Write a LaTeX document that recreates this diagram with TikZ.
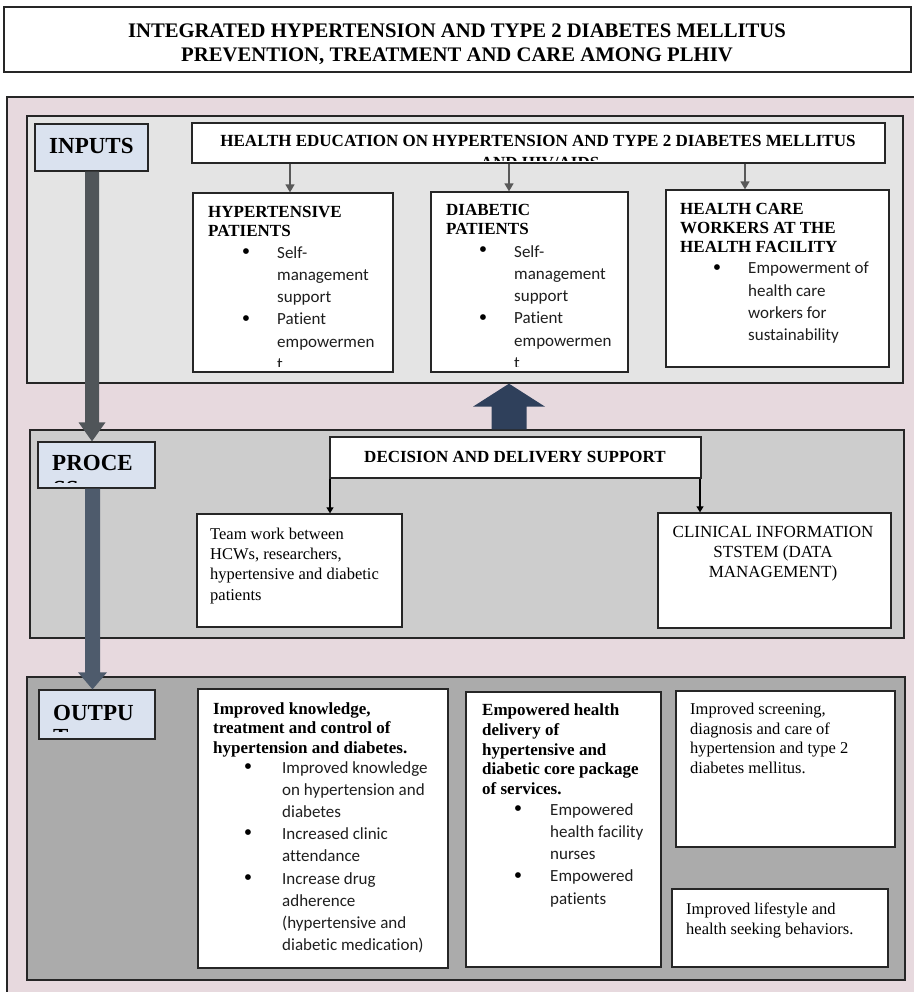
\documentclass[tikz,border=0pt]{standalone}
\usepackage{fontspec}
\setmainfont{Liberation Serif}
\newfontfamily\calfont[RawFeature={-liga}]{Carlito}
\usetikzlibrary{arrows.meta,fit,calc}
\definecolor{pinkbg}{HTML}{E7D9DE}
\definecolor{inbg}{HTML}{E4E4E4}
\definecolor{procbg}{HTML}{CDCDCD}
\definecolor{outbg}{HTML}{ABABAB}
\definecolor{lblbg}{HTML}{DAE2EF}
\definecolor{arrA}{HTML}{505559}
\definecolor{arrB}{HTML}{4E5B6C}
\definecolor{navyup}{HTML}{2F405B}
\definecolor{edgec}{HTML}{262626}
\definecolor{grayarr}{HTML}{595959}
\definecolor{bltext}{HTML}{1E1E1E}
\begin{document}
\begin{tikzpicture}[x=1pt,y=-1pt,
  frame/.style={draw=edgec, line width=1.3pt, inner sep=0pt},
  wbox/.style={frame, fill=white},
  lbl/.style={frame, fill=lblbg},
  lbltxt/.style={anchor=base west, inner sep=0pt, font=\fontsize{23}{28}\selectfont\bfseries},
  hd/.style={anchor=north west, inner sep=0pt, align=left, font=\fontsize{17}{19.6}\selectfont\bfseries},
  bl/.style={anchor=north west, inner sep=0pt, align=left, text=bltext, font=\calfont\fontsize{17}{22.3}\selectfont},
  rg/.style={anchor=north west, inner sep=0pt, align=left, font=\fontsize{16.5}{20.3}\selectfont},
  bdot/.style={anchor=base, inner sep=0pt, font=\fontsize{24}{24}\selectfont},
  garr/.style={draw=grayarr, line width=1.5pt, -{Triangle[length=8pt,width=9pt]}},
  karr/.style={draw=black, line width=1.2pt, -{Triangle[length=6pt,width=7pt]}}
]
\useasboundingbox (0,0) rectangle (913,992);
\fill[white] (0,0) rectangle (913,992);

% title
\node[wbox, fit={(4,7)(911,72)}] (title) {};
\node[anchor=north, inner sep=0pt, align=center, font=\fontsize{20.7}{24}\selectfont\bfseries] (titletxt) at (457,23.3)
  {INTEGRATED HYPERTENSION AND TYPE 2 DIABETES MELLITUS\\PREVENTION, TREATMENT AND CARE AMONG PLHIV};

% outer
\node[frame, fill=pinkbg, fit={(7,97)(920,1002)}] (outer) {};

% ---------- INPUTS ----------
\node[frame, fill=inbg, fit={(27,116)(903,383)}] (inbox) {};
\node[lbl, fit={(35,124)(148,171)}] (inlbl) {};
\node[lbltxt] (inlbltxt) at (49,154) {INPUTS};

\node[wbox, fit={(192,123)(885,163)}] (hedu) {};
\node[anchor=base, inner sep=0pt, font=\fontsize{17}{20}\selectfont\bfseries] (hedut1) at (538,147)
  {HEALTH EDUCATION ON HYPERTENSION AND TYPE 2 DIABETES MELLITUS};
\begin{scope}
\clip (192,123) rectangle (885,161);
\node[anchor=base, inner sep=0pt, font=\fontsize{17}{20}\selectfont\bfseries] (hedut2) at (540,169) {AND HIV/AIDS};
\end{scope}

\node[wbox, fit={(193,193)(393,372)}] (hyp) {};
\node[hd] (hyphd) at (208,205.7) {HYPERTENSIVE\\PATIENTS};
\node[bdot] (hypd1) at (246,259) {•};
\node[bdot] (hypd2) at (246,326) {•};
\begin{scope}
\clip (193,193) rectangle (393,366);
\node[bl] (hyptx) at (277,246) {Self-\\management\\support\\Patient\\empowermen\\t};
\end{scope}

\node[wbox, fit={(431,192)(628,372)}] (dia) {};
\node[hd] (diahd) at (446,203.7) {DIABETIC\\PATIENTS};
\node[bdot] (diad1) at (483,258) {•};
\node[bdot] (diad2) at (483,325) {•};
\begin{scope}
\clip (431,192) rectangle (628,366);
\node[bl] (diatx) at (514,245) {Self-\\management\\support\\Patient\\empowermen\\t};
\end{scope}

\node[wbox, fit={(666,190)(889,367)}] (hcw) {};
\node[hd, font=\fontsize{17}{19}\selectfont\bfseries] (hcwhd) at (680,202.7) {HEALTH CARE\\WORKERS AT THE\\HEALTH FACILITY};
\node[bdot] (hcwd1) at (717,275) {•};
\node[bl] (hcwtx) at (748,262) {Empowerment of\\health care\\workers for\\sustainability};

\coordinate (xa) at (290,0);
\coordinate (xb) at (509,0);
\coordinate (xc) at (745,0);
\draw[garr] (hedu.south -| xa) -- (hyp.north -| xa);
\draw[garr] (hedu.south -| xb) -- (dia.north -| xb);
\draw[garr] (hedu.south -| xc) -- (hcw.north -| xc);

% ---------- PROCESS ----------
\node[frame, fill=procbg, fit={(30,430)(904,638)}] (procbox) {};
\node[lbl, fit={(38,442)(155,488)}] (proclbl) {};
\node[lbltxt] (proctxt) at (52,470) {PROCE};
\begin{scope}
\clip (38,442) rectangle (155,482);
\node[lbltxt] (proctxt2) at (53,496.5) {SS};
\end{scope}

\node[wbox, fit={(330,437)(701,478)}] (dec) {};
\node[anchor=base, inner sep=0pt, font=\fontsize{17}{20}\selectfont\bfseries] (dectxt) at (515,462) {DECISION AND DELIVERY SUPPORT};

\node[wbox, fit={(197,514)(402,627)}] (team) {};
\node[rg] (teamtx) at (210,527.7) {Team work between\\HCWs, researchers,\\hypertensive and diabetic\\patients};

\node[wbox, fit={(658,513)(891,628)}] (cis) {};
\node[anchor=north, inner sep=0pt, align=center, font=\fontsize{17}{20}\selectfont] (cistx) at (773,526.5)
  {CLINICAL INFORMATION\\STSTEM (DATA\\MANAGEMENT)};

\coordinate (xd) at (330,0);
\coordinate (xe) at (700,0);
\draw[karr] (dec.south -| xd) -- (team.north -| xd);
\draw[karr] (dec.south -| xe) -- (cis.north -| xe);

% ---------- OUTPUT ----------
\node[frame, fill=outbg, fit={(27,677)(905,980)}] (outbox) {};
\node[lbl, fit={(39,690)(155,739)}] (outlbl) {};
\node[lbltxt] (outtxt) at (53,720) {OUTPU};
\begin{scope}
\clip (39,690) rectangle (155,731);
\node[lbltxt] (outtxt2) at (53,744) {T};
\end{scope}

\node[wbox, fit={(198,689)(448,968)}] (ik) {};
\node[hd, font=\fontsize{17}{19.3}\selectfont\bfseries] (ikhd) at (213,702.5) {Improved knowledge,\\treatment and control of\\hypertension and diabetes.};
\node[bdot] (ikd1) at (248,774) {•};
\node[bdot] (ikd2) at (248,840.6) {•};
\node[bdot] (ikd3) at (248,885) {•};
\node[bl, font=\calfont\fontsize{17}{22.2}\selectfont] (iktx) at (282,761) {Improved knowledge\\on hypertension and\\diabetes\\Increased clinic\\attendance\\Increase drug\\adherence\\(hypertensive and\\diabetic medication)};

\node[wbox, fit={(466,692)(661,967)}] (eh) {};
\node[hd, font=\fontsize{17}{19.8}\selectfont\bfseries] (ehhd) at (482,703.5) {Empowered health\\delivery of\\hypertensive and\\diabetic core package\\of services.};
\node[bdot] (ehd1) at (518,816) {•};
\node[bdot] (ehd2) at (518,883) {•};
\node[bl] (ehtx) at (550,803) {Empowered\\health facility\\nurses\\Empowered\\patients};

\node[wbox, fit={(676,691)(895,847)}] (scr) {};
\node[rg, font=\fontsize{16.5}{19.7}\selectfont] (scrtx) at (690,702.7) {Improved screening,\\diagnosis and care of\\hypertension and type 2\\diabetes mellitus.};

\node[wbox, fit={(672,889)(888,967)}] (life) {};
\node[rg, font=\fontsize{16.5}{19.5}\selectfont] (lifetx) at (686,902.7) {Improved lifestyle and\\health seeking behaviors.};

% ---------- thick arrows ----------
\coordinate (xf) at (92,0);
\fill[arrA] ($(inlbl.south -| xf)+(-7,0)$) -- ($(inlbl.south -| xf)+(7,0)$)
  -- ($(proclbl.north -| xf)+(7,-19)$) -- ($(proclbl.north -| xf)+(13.5,-19)$)
  -- (proclbl.north -| xf) -- ($(proclbl.north -| xf)+(-13.5,-19)$)
  -- ($(proclbl.north -| xf)+(-7,-19)$) -- cycle;
\coordinate (xg) at (92.5,0);
\fill[arrB] ($(proclbl.south -| xg)+(-7.5,0)$) -- ($(proclbl.south -| xg)+(7.5,0)$)
  -- ($(outlbl.north -| xg)+(7.5,-17)$) -- ($(outlbl.north -| xg)+(14.5,-17)$)
  -- (outlbl.north -| xg) -- ($(outlbl.north -| xg)+(-14.5,-17)$)
  -- ($(outlbl.north -| xg)+(-7.5,-17)$) -- cycle;
\coordinate (xh) at (509,0);
\fill[navyup] ($(procbox.north -| xh)+(-17.5,0)$) -- ($(procbox.north -| xh)+(17.5,0)$)
  -- ($(inbox.south -| xh)+(17.5,23)$) -- ($(inbox.south -| xh)+(36,23)$)
  -- (inbox.south -| xh) -- ($(inbox.south -| xh)+(-36,23)$)
  -- ($(inbox.south -| xh)+(-17.5,23)$) -- cycle;
\end{tikzpicture}
\end{document}
